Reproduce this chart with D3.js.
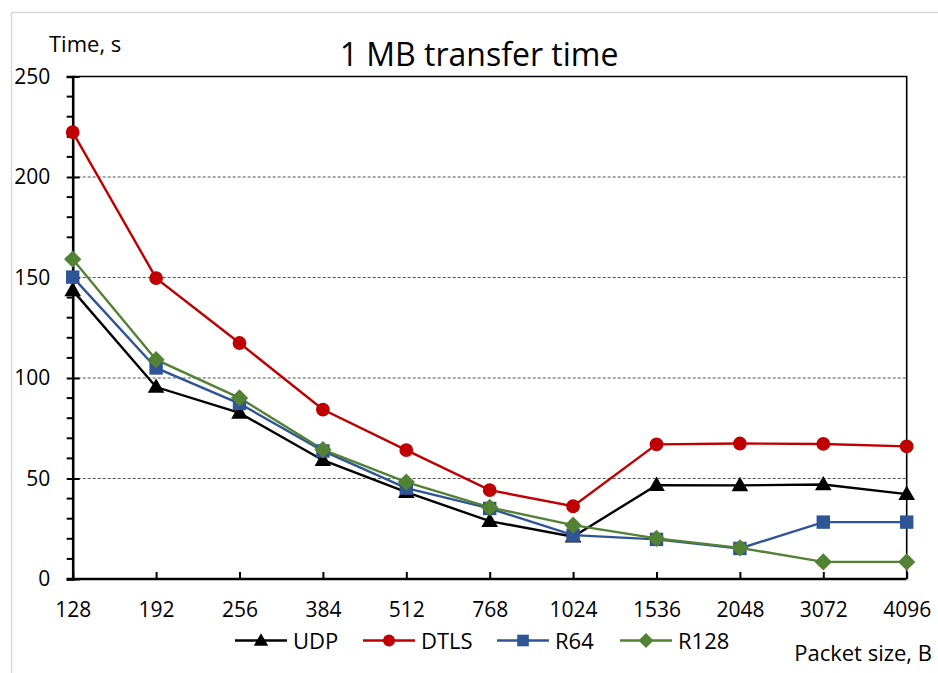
<!DOCTYPE html>
<html>
<head>
<meta charset="utf-8">
<script src="https://cdn.jsdelivr.net/npm/d3@7"></script>
<style>
  body { margin: 0; background: #fff; }
  svg { display: block; font-family: "Open Sans", sans-serif; }
</style>
</head>
<body>
<svg></svg>
<script>
const packetSizes = ["128", "192", "256", "384", "512", "768", "1024", "1536", "2048", "3072", "4096"];
const udp = [143.6, 95.5, 82.6, 59.1, 43.2, 28.8, 21.0, 46.7, 46.6, 47.0, 42.2];
const dtls = [222.3, 149.7, 117.4, 84.3, 64.1, 44.2, 36.2, 67.0, 67.4, 67.2, 66.0];
const r64 = [150.2, 105.0, 87.3, 63.7, 45.2, 35.1, 21.8, 19.7, 15.2, 28.3, 28.3];
const r128 = [159.1, 109.1, 90.1, 64.4, 48.2, 35.6, 26.8, 20.2, 15.5, 8.5, 8.5];
const yTicks = [0, 50, 100, 150, 200, 250];

// rot: rotate the symbol (diamond = square turned 45 deg)
const series = [
  { name: "UDP", values: udp, color: "#000000", symbol: d3.symbolTriangle, size: 120, rot: 0, dy: 1 },
  { name: "DTLS", values: dtls, color: "#c00000", symbol: d3.symbolCircle, size: 150, rot: 0, dy: 0 },
  { name: "R64", values: r64, color: "#2f5597", symbol: d3.symbolSquare, size: 180, rot: 0, dy: 0 },
  { name: "R128", values: r128, color: "#548235", symbol: d3.symbolSquare, size: 150, rot: 45, dy: 0 }
];

const width = 938;
const height = 673;
const marginLeft = 72.7;
const marginRight = 31.3;
const marginTop = 76.5;
const marginBottom = 94;

const svg = d3.select("svg").attr("width", width).attr("height", height);

// outer chart border
svg.append("rect")
  .attr("x", 11.5).attr("y", 12.5)
  .attr("width", 940).attr("height", 700)
  .attr("fill", "none").attr("stroke", "#d9d9d9").attr("stroke-width", 1.5);

const x = d3.scalePoint(packetSizes, [marginLeft, width - marginRight]);
const y = d3.scaleLinear([0, 250], [height - marginBottom, marginTop]);

// dashed gridlines
svg.append("g")
  .selectAll("line")
  .data(yTicks.filter(d => d > 0 && d < 250))
  .join("line")
  .attr("x1", marginLeft).attr("x2", width - marginRight)
  .attr("y1", d => y(d)).attr("y2", d => y(d))
  .attr("stroke", "#404040").attr("stroke-width", 0.9)
  .attr("stroke-dasharray", "3,2");

// top and right frame
svg.append("path")
  .attr("d", `M${marginLeft},${y(250)}H${width - marginRight}V${y(0)}`)
  .attr("fill", "none").attr("stroke", "#000").attr("stroke-width", 1.6);

// y axis with minor ticks
const yAxis = svg.append("g")
  .attr("transform", `translate(${marginLeft},0)`);
yAxis.selectAll(".minor")
  .data(d3.range(0, 251, 10).filter(d => d % 50 !== 0))
  .join("line")
  .attr("x1", -6).attr("x2", 0)
  .attr("y1", d => y(d)).attr("y2", d => y(d))
  .attr("stroke", "#000").attr("stroke-width", 2);
yAxis.call(d3.axisLeft(y).tickValues(yTicks).tickSize(6).tickPadding(16.5))
  .call(g => g.select(".domain").attr("stroke-width", 2.6))
  .call(g => g.selectAll(".tick line").attr("x2", 7).attr("x1", -6).attr("stroke-width", 2))
  .call(g => g.selectAll(".tick text").attr("font-size", 21).attr("font-family", "Open Sans").attr("fill", "#000"));

// x axis, ticks pointing inward
svg.append("g")
  .attr("transform", `translate(0,${y(0)})`)
  .call(d3.axisBottom(x).tickSize(-7).tickPadding(23))
  .call(g => g.select(".domain").attr("stroke-width", 2.6).attr("d", `M${marginLeft - 6},0H${width - marginRight}`))
  .call(g => g.selectAll(".tick line").attr("stroke-width", 2))
  .call(g => g.selectAll(".tick text").attr("font-size", 21).attr("font-family", "Open Sans").attr("fill", "#000"));

// lines and markers
const line = d3.line()
  .x((d, i) => x(packetSizes[i]))
  .y(d => y(d));

series.forEach(s => {
  svg.append("path")
    .datum(s.values)
    .attr("d", line)
    .attr("fill", "none")
    .attr("stroke", s.color)
    .attr("stroke-width", 2.4);
});
series.forEach(s => {
  svg.append("g")
    .selectAll("path")
    .data(s.values)
    .join("path")
    .attr("transform", (d, i) => `translate(${x(packetSizes[i])},${y(d) + s.dy}) rotate(${s.rot})`)
    .attr("d", d3.symbol(s.symbol, s.size))
    .attr("fill", s.color);
});

// texts
svg.append("text")
  .attr("x", 479).attr("y", 66)
  .attr("text-anchor", "middle")
  .attr("font-size", 32)
  .text("1 MB transfer time");

svg.append("text")
  .attr("x", 49).attr("y", 52)
  .attr("font-size", 22)
  .text("Time, s");

svg.append("text")
  .attr("x", 932).attr("y", 661)
  .attr("text-anchor", "end")
  .attr("font-size", 22)
  .text("Packet size, B");

// legend
const legendX = [235, 363, 497, 620];
const legend = svg.append("g")
  .selectAll("g")
  .data(series)
  .join("g")
  .attr("transform", (d, i) => `translate(${legendX[i]},640.5)`);
legend.append("line")
  .attr("x1", 0).attr("x2", 52)
  .attr("stroke", d => d.color).attr("stroke-width", 2.4);
legend.append("path")
  .attr("transform", d => `translate(26,${d.dy}) rotate(${d.rot})`)
  .attr("d", d => d3.symbol(d.symbol, d.size * 0.75)())
  .attr("fill", d => d.color);
legend.append("text")
  .attr("x", 58).attr("y", 8)
  .attr("font-size", 22)
  .text(d => d.name);
</script>
</body>
</html>
